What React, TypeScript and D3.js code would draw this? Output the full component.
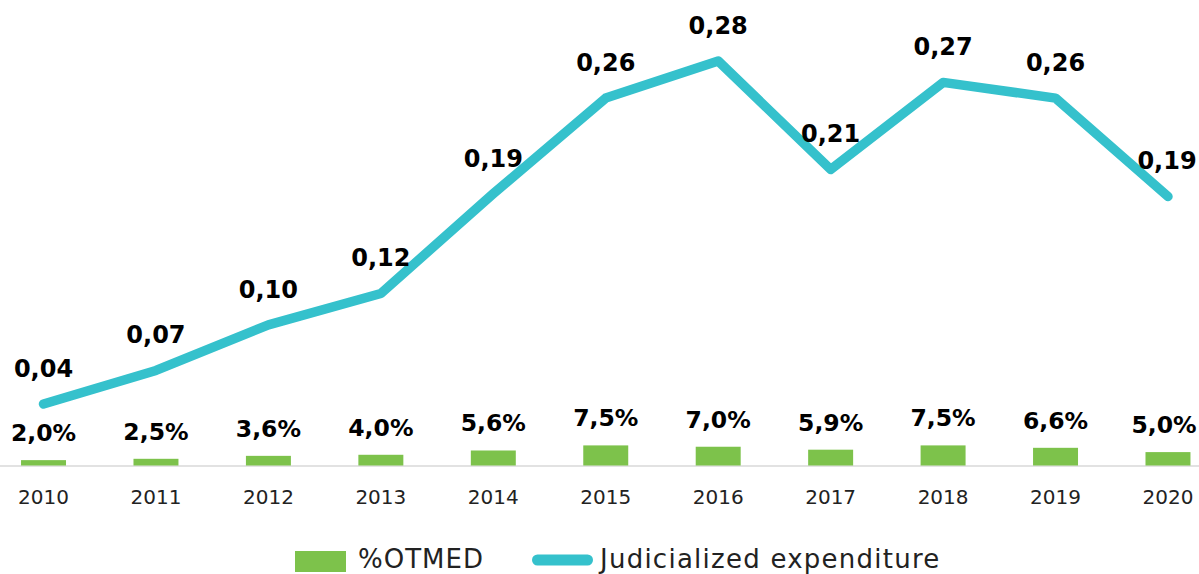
import React from "react";
import * as d3 from "d3";

const years = ["2010", "2011", "2012", "2013", "2014", "2015", "2016", "2017", "2018", "2019", "2020"];
const otmedPct = [2.0, 2.5, 3.6, 4.0, 5.6, 7.5, 7.0, 5.9, 7.5, 6.6, 5.0];
const judicialized = [0.0435, 0.067, 0.099, 0.121, 0.191, 0.258, 0.284, 0.208, 0.269, 0.258, 0.189];
const legendLabels = ["%OTMED", "Judicialized expenditure"];

const W = 1199;
const H = 574;
const GREEN = "#7DC24B";
const TEAL = "#35C1CC";
const FONT = "'DejaVu Sans', sans-serif";

export default function App() {
  const x = d3.scalePoint<string>().domain(years).range([-12.7, 1224.2]).padding(0.5);
  const step = x.step();
  const barW = step * 0.4;
  const baseY = 466;
  const yBar = d3.scaleLinear().domain([0, 100]).range([465.5, 465.5 - 268]);
  const yLine = d3.scaleLinear().domain([0, 0.3]).range([baseY, baseY - 0.3 * 1426]);
  const fmtLine = (v: number) => d3.format(".2f")(v).replace(".", ",");
  const fmtPct = (v: number) => d3.format(".1f")(v).replace(".", ",") + "%";

  const line = d3
    .line<number>()
    .x((_, i) => x(years[i]) as number)
    .y((d) => yLine(d));

  return (
    <svg
      width={W}
      height={H}
      style={{ position: "absolute", left: 0, top: 0, background: "#fff" }}
      fontFamily={FONT}
    >
      <line x1={0} x2={W} y1={baseY} y2={baseY} stroke="#d9d9d9" strokeWidth={1.5} />
      {otmedPct.map((v, i) => {
        const cx = x(years[i]) as number;
        return (
          <g key={"b" + i}>
            <rect x={cx - barW / 2} y={yBar(v)} width={barW} height={yBar(0) - yBar(v)} fill={GREEN} />
            <text
              x={Math.min(cx, W - 35)}
              y={yBar(v) - 19}
              textAnchor="middle"
              fontSize={23.5}
              fontWeight="bold"
              fill="#000"
            >
              {fmtPct(v)}
            </text>
          </g>
        );
      })}
      <path
        d={line(judicialized) || ""}
        fill="none"
        stroke={TEAL}
        strokeWidth={9.5}
        strokeLinejoin="round"
        strokeLinecap="round"
      />
      {judicialized.map((v, i) => {
        const cx = x(years[i]) as number;
        return (
          <text
            key={"l" + i}
            x={Math.min(cx, W - 32)}
            y={yLine(v) - 27}
            textAnchor="middle"
            fontSize={24}
            fontWeight="bold"
            fill="#000"
          >
            {fmtLine(v)}
          </text>
        );
      })}
      {years.map((yr) => (
        <text key={yr} x={x(yr) as number} y={504} textAnchor="middle" fontSize={20} fill="#222">
          {yr}
        </text>
      ))}
      <g>
        <rect x={295} y={551} width={51} height={21} fill={GREEN} />
        <text x={358} y={567.5} fontSize={26} letterSpacing={1} fill="#222">
          {legendLabels[0]}
        </text>
        <line x1={537.5} x2={587.5} y1={560} y2={560} stroke={TEAL} strokeWidth={11} strokeLinecap="round" />
        <text x={600} y={567.5} fontSize={26} letterSpacing={1.25} fill="#222">
          {legendLabels[1]}
        </text>
      </g>
    </svg>
  );
}
